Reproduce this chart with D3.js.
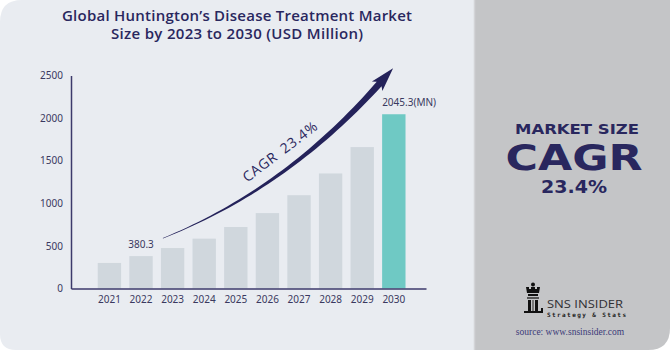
<!DOCTYPE html>
<html>
<head>
<meta charset="utf-8">
<script src="https://cdn.jsdelivr.net/npm/d3@7"></script>
<style>
  html, body { margin: 0; padding: 0; background: #ffffff; }
  svg { display: block; }
</style>
</head>
<body>
<div id="chart"></div>
<script>
var years = ["2021", "2022", "2023", "2024", "2025", "2026", "2027", "2028", "2029", "2030"];
var values = [300, 380.3, 475, 585, 722, 885, 1095, 1350, 1660, 2045.3];
var valueLabels = ["", "380.3", "", "", "", "", "", "", "", "2045.3(MN)"];
var yTicks = [0, 500, 1000, 1500, 2000, 2500];
var titleLines = ["Global Huntington\u2019s Disease Treatment Market", "Size by 2023 to 2030 (USD Million)"];
var cagrText = "CAGR 23.4%";
var sideLines = ["MARKET SIZE", "CAGR", "23.4%"];

var width = 670, height = 350;
var navy = "#29275e";
var tickColor = "#3a3960";

var svg = d3.select("#chart").append("svg")
  .attr("width", width)
  .attr("height", height);

// background card (left) and side panel (right)
var splitX = 474;
svg.append("path")
  .attr("d", "M0,22 Q0,0 22,0 L" + splitX + ",0 L" + splitX + "," + height +
    " L16," + height + " Q0," + height + " 0," + (height - 16) + " Z")
  .attr("fill", "#e9ecf1");
svg.append("path")
  .attr("d", "M" + splitX + ",0 L" + width + ",0 L" + width + "," + (height - 22) +
    " Q" + width + "," + height + " " + (width - 22) + "," + height + " L" + splitX + "," + height + " Z")
  .attr("fill", "#c4c5c7");
svg.append("line")
  .attr("x1", splitX + 0.5).attr("x2", splitX + 0.5)
  .attr("y1", 0).attr("y2", height)
  .attr("stroke", "#d3d4d7").attr("stroke-width", 1.5);

// title
svg.append("g").selectAll("text")
  .data(titleLines)
  .enter().append("text")
  .attr("x", 237)
  .attr("y", function (d, i) { return 20.5 + i * 18.5; })
  .attr("text-anchor", "middle")
  .attr("font-family", "'Open Sans', sans-serif")
  .attr("font-weight", 600)
  .attr("font-size", 15)
  .attr("textLength", function (d, i) { return i === 0 ? 350 : 252; })
  .attr("lengthAdjust", "spacing")
  .attr("fill", navy)
  .text(function (d) { return d; });

// scales
var plotLeft = 71, plotRight = 426, plotTop = 75.5, plotBottom = 288.5;
var x = d3.scaleBand()
  .domain(years)
  .range([plotLeft, plotRight])
  .paddingInner(0.26)
  .paddingOuter(0.747)
  .align(0.566);
var y = d3.scaleLinear()
  .domain([0, 2500])
  .range([plotBottom, plotTop]);

// bars
svg.append("g").selectAll("rect")
  .data(values)
  .enter().append("rect")
  .attr("x", function (d, i) { return x(years[i]); })
  .attr("y", function (d) { return y(d); })
  .attr("width", x.bandwidth())
  .attr("height", function (d) { return y(0) - y(d); })
  .attr("fill", function (d, i) { return i === years.length - 1 ? "#6fc9c4" : "#d0d7dd"; });

// value labels
svg.append("g").selectAll("text")
  .data(values)
  .enter().append("text")
  .filter(function (d, i) { return valueLabels[i] !== ""; })
  .attr("x", function (d) {
    var i = values.indexOf(d);
    return i === years.length - 1 ? x(years[i]) : x(years[i]) + x.bandwidth() / 2;
  })
  .attr("y", function (d) { return y(d) - 8; })
  .attr("text-anchor", function (d) { return values.indexOf(d) === years.length - 1 ? "start" : "middle"; })
  .attr("font-family", "'Noto Sans', sans-serif")
  .attr("font-size", 10)
  .attr("fill", tickColor)
  .text(function (d) { return valueLabels[values.indexOf(d)]; });

// y axis
var yAxis = svg.append("g")
  .attr("transform", "translate(" + plotLeft + ",0)")
  .call(d3.axisLeft(y).tickValues(yTicks).tickFormat(d3.format("d")).tickSize(0).tickPadding(8));
yAxis.select(".domain").attr("stroke", "#3c3a6b").attr("stroke-width", 1.5);
yAxis.selectAll("text")
  .attr("font-family", "'Noto Sans', sans-serif")
  .attr("font-size", 10)
  .attr("fill", tickColor);

// x axis
var xAxis = svg.append("g")
  .attr("transform", "translate(0," + plotBottom + ")")
  .call(d3.axisBottom(x).tickSize(0).tickPadding(7));
xAxis.select(".domain").attr("stroke", "#3c3a6b").attr("stroke-width", 1.5);
xAxis.selectAll("text")
  .attr("font-family", "'Noto Sans', sans-serif")
  .attr("font-size", 10)
  .attr("fill", tickColor);

// CAGR arrow: tapered quadratic curve with arrowhead
var p0 = [x("2023") + 2, y(590)];
var pc = [x("2027") - 2, y(1165)];
var p2 = [x("2030") - 3, y(2400)];
function bez(t) {
  var a = (1 - t) * (1 - t), b = 2 * t * (1 - t), c = t * t;
  return [a * p0[0] + b * pc[0] + c * p2[0], a * p0[1] + b * pc[1] + c * p2[1]];
}
function tang(t) {
  var dx = 2 * (1 - t) * (pc[0] - p0[0]) + 2 * t * (p2[0] - pc[0]);
  var dy = 2 * (1 - t) * (pc[1] - p0[1]) + 2 * t * (p2[1] - pc[1]);
  var l = Math.sqrt(dx * dx + dy * dy);
  return [dx / l, dy / l];
}
var leftSide = [], rightSide = [];
d3.range(0, 41).forEach(function (k) {
  var t = k / 40, p = bez(t), d = tang(t);
  var n = [d[1], -d[0]];
  var w = (0.5 + 6 * Math.pow(t, 1.1)) / 2;
  leftSide.push([p[0] + n[0] * w, p[1] + n[1] * w]);
  rightSide.push([p[0] - n[0] * w, p[1] - n[1] * w]);
});
var dEnd = tang(1), nEnd = [dEnd[1], -dEnd[0]];
var tip = [p2[0] + dEnd[0] * 21, p2[1] + dEnd[1] * 21];
var barbL = [p2[0] + nEnd[0] * 7 - dEnd[0] * 3, p2[1] + nEnd[1] * 7 - dEnd[1] * 3];
var barbR = [p2[0] - nEnd[0] * 7 - dEnd[0] * 3, p2[1] - nEnd[1] * 7 - dEnd[1] * 3];
var arrowPts = leftSide.concat([barbL, tip, barbR]).concat(rightSide.reverse());
svg.append("path")
  .attr("d", d3.line()(arrowPts) + "Z")
  .attr("fill", "#24225a");

var tm = bez(0.56), dm = tang(0.56);
var ang = Math.atan2(dm[1], dm[0]) * 180 / Math.PI;
svg.append("text")
  .attr("transform", "translate(" + (tm[0] + dm[1] * 13) + "," + (tm[1] - dm[0] * 13) + ") rotate(" + ang + ")")
  .attr("text-anchor", "middle")
  .attr("font-family", "'Open Sans', sans-serif")
  .attr("font-size", 14)
  .attr("letter-spacing", 0.8)
  .attr("word-spacing", 3)
  .attr("fill", navy)
  .text(cagrText);

// side panel text
var sideSizes = [14, 35, 18], sideY = [134, 170, 193], sideX = [577, 574, 574], sideW = [124, 137, 66];
svg.append("g")
  .attr("fill", navy).attr("text-anchor", "middle")
  .attr("font-family", "'DejaVu Sans', sans-serif").attr("font-weight", "bold")
  .selectAll("text")
  .data(sideLines)
  .enter().append("text")
  .attr("x", function (d, i) { return sideX[i]; })
  .attr("y", function (d, i) { return sideY[i]; })
  .attr("font-size", function (d, i) { return sideSizes[i]; })
  .attr("textLength", function (d, i) { return sideW[i]; })
  .attr("lengthAdjust", "spacingAndGlyphs")
  .text(function (d) { return d; });

// logo
var logo = svg.append("g").attr("fill", "#111111");
logo.append("circle").attr("cx", 533).attr("cy", 284.5).attr("r", 2);
logo.append("path").attr("d", "M526,287 L529,287 L529,289 L531,289 L531,287 L535,287 L535,289 L537,289 L537,287 L540,287 L539,293 L527,293 Z");
logo.append("rect").attr("x", 528).attr("y", 294).attr("width", 10).attr("height", 2);
logo.append("path").attr("d", "M527,297 L539,297 L539,299 L527,299 Z").attr("fill", "#555555");
logo.append("path").attr("d", "M528,300 L531,300 L531,311 L528,311 Z");
logo.append("path").attr("d", "M532,300 L534,300 L534,311 L532,311 Z").attr("fill", "#777777");
logo.append("path").attr("d", "M535,300 L538,300 L538,311 L535,311 Z");
logo.append("path").attr("d", "M524,311 L543,311 L543,313 L524,313 Z");
logo.append("path").attr("d", "M541,308 L543,308 L543,313 L541,313 Z");
svg.append("text").attr("x", 547).attr("y", 308)
  .attr("font-family", "'Open Sans', sans-serif").attr("font-size", 11.5)
  .attr("textLength", 76).attr("lengthAdjust", "spacingAndGlyphs")
  .attr("fill", "#2f2f33").text("SNS INSIDER");
svg.append("text").attr("x", 547).attr("y", 316.5)
  .attr("font-family", "'DejaVu Sans Mono', monospace").attr("font-size", 6).attr("font-weight", "bold")
  .attr("textLength", 79).attr("lengthAdjust", "spacing")
  .attr("fill", "#222222").text("Strategy & Stats");
svg.append("text").attr("x", 570).attr("y", 334.5).attr("text-anchor", "middle")
  .attr("font-family", "'Liberation Serif', serif").attr("font-size", 9.5)
  .attr("fill", "#3b3a78").text("source: www.snsinsider.com");
</script>
</body>
</html>
